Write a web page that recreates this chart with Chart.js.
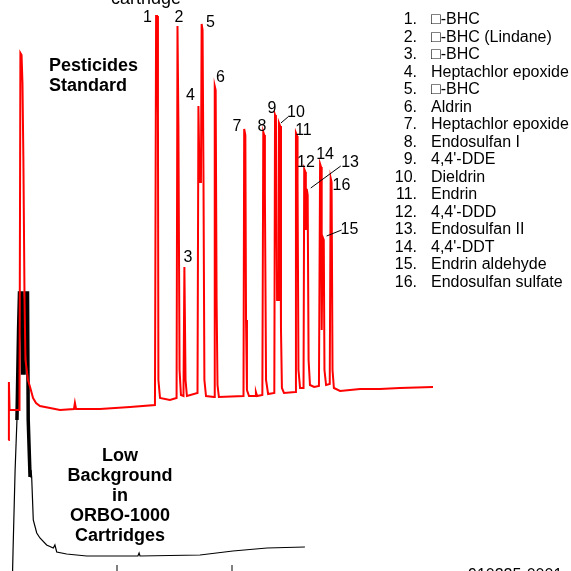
<!DOCTYPE html>
<html>
<head>
<meta charset="utf-8">
<title>Pesticides Standard</title>
<script src="https://cdn.jsdelivr.net/npm/chart.js@4/dist/chart.umd.min.js"></script>
<style>
    html, body { margin: 0; padding: 0; background: #ffffff; }
    #wrap { width: 571px; height: 571px; position: relative; }
</style>
</head>
<body>
<div id="wrap"><canvas id="chromatogram"></canvas></div>
<script>
    "use strict";

    // Retention time (min) and detector response of the standard trace (red)
    var stdTime = [5.28, 5.30, 5.33, 5.76, 5.80, 5.85, 5.89, 5.93, 5.98, 6.02, 6.13, 6.22, 6.35, 6.48, 6.65,
        7.09, 7.52, 8.13, 8.17, 8.22, 9.26, 10.57, 11.65, 11.70, 11.74, 11.78, 11.80, 11.87, 12.30,
        12.59, 12.63, 12.67, 12.72, 12.78, 12.89, 12.93, 12.98, 13.04, 13.50, 13.54, 13.59, 13.65,
        13.68, 13.72, 13.76, 13.80, 13.87, 14.22, 14.25, 14.29, 14.33, 14.37, 14.43, 15.50, 15.53,
        15.58, 15.61, 15.65, 15.74, 16.00, 16.04, 16.09, 16.32, 16.36, 16.40, 16.43, 16.48, 16.57,
        16.84, 16.87, 16.91, 16.96, 17.01, 17.04, 17.09, 17.13, 17.17, 17.26, 17.75, 17.78, 17.83,
        17.85, 17.89, 17.96, 18.11, 18.14, 18.19, 18.21, 18.25, 18.29, 18.33, 18.39, 18.57, 18.78,
        18.83, 18.87, 18.90, 18.94, 18.99, 19.02, 19.09, 19.25, 19.29, 19.33, 19.37, 19.43, 19.70,
        20.57, 21.43, 22.30, 23.74];
    var stdResponse = [131, 189, 161, 161, 518, 516, 488, 411, 271, 211, 191, 184, 173, 168, 165,
        163, 161, 162, 168, 162, 162, 164, 166, 555, 555, 456, 191, 173, 171,
        173, 545, 445, 201, 176, 175, 304, 191, 175, 178, 465, 389, 389,
        547, 541, 393, 191, 175, 174, 485, 481, 271, 186, 174, 175, 442,
        436, 251, 181, 175, 175, 179, 175, 176, 439, 436, 379, 191, 177,
        178, 456, 453, 271, 271, 448, 445, 241, 183, 178, 179, 438, 435,
        389, 201, 183, 183, 402, 399, 341, 382, 376, 211, 186, 184, 185,
        407, 404, 241, 334, 331, 201, 186, 187, 393, 389, 201, 183, 180,
        182, 182, 183, 184];

    // Blank cartridge trace (black)
    var blankTime = [5.46, 5.48, 5.57, 5.65, 5.72, 5.76, 5.85, 5.89, 5.96, 6.01, 6.11, 6.14, 6.22,
        6.26, 6.29, 6.36, 6.51, 6.65, 6.94, 7.23, 7.30, 7.38, 7.81, 8.68, 9.99, 10.91, 10.96, 11.00,
        13.61, 15.04, 16.52, 18.17];
    var blankResponse = [0, 20, 101, 151, 241, 278, 278, 198, 198, 278, 278, 151, 94,
        101, 94, 51, 38, 33, 26, 23, 26, 19, 17, 15, 15, 15, 18, 15,
        16, 20, 23, 24];

    // Peak apexes, numbered 1..16
    var peakTime = [11.72, 12.63, 12.93, 13.54, 13.68, 14.25, 15.53, 16.36, 16.87, 17.04, 17.78, 18.14, 18.25, 18.83, 18.94, 19.29];
    var peakHeight = [555, 545, 304, 465, 547, 485, 442, 439, 456, 448, 438, 402, 382, 407, 334, 393];

    var compounds = ["\u25A1-BHC", "\u25A1-BHC (Lindane)", "\u25A1-BHC", "Heptachlor epoxide", "\u25A1-BHC",
        "Aldrin", "Heptachlor epoxide", "Endosulfan I", "4,4'-DDE", "Dieldrin", "Endrin", "4,4'-DDD",
        "Endosulfan II", "4,4'-DDT", "Endrin aldehyde", "Endosulfan sulfate"];

    // time axis tick marks
    var axisTicks = [10, 15];

    function toPoints(xs, ys) {
        var pts = [];
        for (var i = 0; i < xs.length; i++) {
            pts.push({ x: xs[i], y: ys[i] });
        }
        return pts;
    }

    var tickPoints = [];
    axisTicks.forEach(function (t) {
        tickPoints.push({ x: t, y: 0 }, { x: t, y: 6 }, { x: t, y: null });
    });

    // label offsets from each peak apex (px), and leader lines for crowded ones
    var labelOffset = [[-9, 6], [1.5, -4], [3.5, -5], [-8, -6], [8.8, 3], [5.8, -4], [-7.3, 2], [-1.3, -1],
        [-3, -2], [17, -6], [7.5, 2], [1.7, -2], [43.3, -22], [5, -5], [26.8, -3], [10.8, 12]];
    var leaders = { 10: [2, 0, 9, -6], 13: [4, -1, 34, -23], 15: [4, -1, 19, -7] };

    var FONT = "'Liberation Sans', Arial, sans-serif";

    var annotations = {
        id: "annotations",
        afterDatasetsDraw: function (chart) {
            var ctx = chart.ctx;
            var xs = chart.scales.x, ys = chart.scales.y;
            ctx.save();
            ctx.fillStyle = "#000";
            ctx.strokeStyle = "#000";
            ctx.lineWidth = 1;

            // peak numbers
            ctx.font = "16px " + FONT;
            ctx.textAlign = "center";
            ctx.textBaseline = "alphabetic";
            for (var i = 0; i < peakTime.length; i++) {
                var px = xs.getPixelForValue(peakTime[i]);
                var py = ys.getPixelForValue(peakHeight[i]);
                ctx.fillText(String(i + 1), px + labelOffset[i][0], py + labelOffset[i][1]);
                var l = leaders[i + 1];
                if (l) {
                    ctx.beginPath();
                    ctx.moveTo(px + l[0], py + l[1]);
                    ctx.lineTo(px + l[2], py + l[3]);
                    ctx.stroke();
                }
            }

            // titles
            ctx.font = "bold 18px " + FONT;
            ctx.textAlign = "left";
            ctx.fillText("Pesticides", 49, 71);
            ctx.fillText("Standard", 49, 91);

            ctx.textAlign = "center";
            ["Low", "Background", "in", "ORBO-1000", "Cartridges"].forEach(function (s, k) {
                ctx.fillText(s, 120, 461 + k * 20);
            });

            ctx.font = "18px " + FONT;
            ctx.fillText("cartridge", 146, 4);

            ctx.font = "16px " + FONT;
            ctx.textAlign = "left";
            ctx.fillText("910225-0001", 468, 580);

            // peak identification list
            ctx.font = "16px " + FONT;
            for (var j = 0; j < compounds.length; j++) {
                var by = 24.2 + j * 17.5;
                ctx.textAlign = "right";
                ctx.fillText((j + 1) + ".", 417, by);
                ctx.textAlign = "left";
                ctx.fillText(compounds[j], 431, by);
            }
            ctx.restore();
        }
    };

    var ctx1 = document.getElementById("chromatogram").getContext("2d");
    var myChart1 = new Chart(ctx1, {
        type: "line",
        data: {
            datasets: [{
                label: "Pesticides Standard",
                data: toPoints(stdTime, stdResponse),
                borderColor: "#ff0000",
                borderWidth: 2,
                pointRadius: 0,
                tension: 0
            }, {
                label: "Blank",
                data: toPoints(blankTime, blankResponse),
                borderColor: "#000000",
                borderWidth: 1.2,
                pointRadius: 0,
                tension: 0,
                // solvent front is drawn heavier
                segment: {
                    borderWidth: function (s) {
                        return s.p0.parsed.x < 6.2 && s.p0.parsed.x > 5.6 ? 3.5 : 1.2;
                    }
                }
            }, {
                label: "ticks",
                data: tickPoints,
                borderColor: "#000000",
                borderWidth: 1,
                pointRadius: 0,
                spanGaps: false
            }]
        },
        options: {
            responsive: true,
            maintainAspectRatio: false,
            animation: false,
            layout: { padding: 0 },
            scales: {
                x: { type: "linear", min: 4.913, max: 29.739, display: false },
                y: { type: "linear", min: 0, max: 571, display: false }
            },
            plugins: {
                legend: { display: false },
                tooltip: { enabled: false }
            }
        },
        plugins: [annotations]
    });
</script>
</body>
</html>
